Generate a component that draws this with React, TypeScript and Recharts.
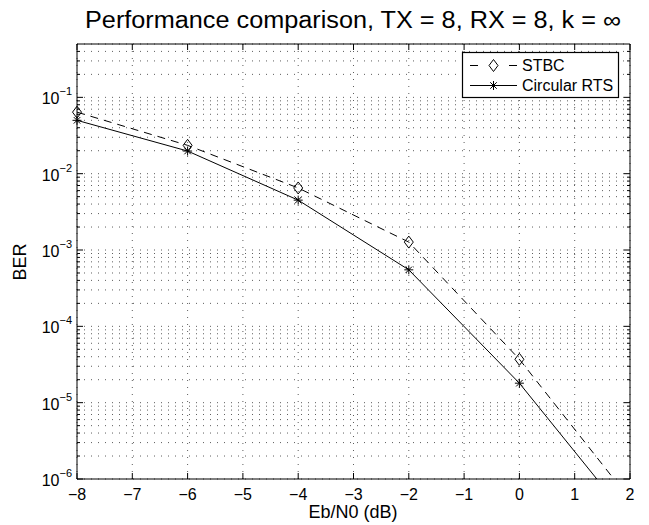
import React from "react";
import {
  LineChart,
  Line,
  XAxis,
  YAxis,
  CartesianGrid,
} from "recharts";

// Eb/N0 (dB) and BER
const snr = [-8, -6, -4, -2, 0, 2];
const stbc = [0.064, 0.0235, 0.0065, 0.00127, 3.7e-5, 5.4e-7];
const circularRts = [0.05, 0.0198, 0.0045, 0.00055, 1.8e-5, 2.9e-7];

const xTicks = [-8, -7, -6, -5, -4, -3, -2, -1, 0, 1, 2];
const yMajor = [1e-6, 1e-5, 1e-4, 1e-3, 1e-2, 1e-1];
const yExp = [-6, -5, -4, -3, -2, -1];
const minorMult = [2, 3, 4, 5, 6, 7, 8, 9];
const Y_MIN = 1e-6;
const Y_MAX = 0.5;

const data = snr.map((x, i) => ({ x, stbc: stbc[i], rts: circularRts[i] }));

const yTicks: number[] = [];
yMajor.forEach((m) => {
  yTicks.push(m);
  minorMult.forEach((k) => {
    const v = m * k;
    if (v < Y_MAX * 0.99) yTicks.push(v);
  });
});

const FONT = "'Liberation Sans', Arial, Helvetica, sans-serif";
const isMajor = (v: number) => yMajor.some((m) => Math.abs(v / m - 1) < 1e-6);

const fmtX = (v: number) => (v < 0 ? `\u2212${Math.abs(v)}` : `${v}`);

function LeftTick(props: any) {
  const { x, y, payload } = props;
  const major = isMajor(payload.value);
  const idx = yMajor.findIndex((m) => Math.abs(payload.value / m - 1) < 1e-6);
  return (
    <g>
      <line x1={x} y1={y} x2={x + (major ? 6 : 3)} y2={y} stroke="#000" />
      {major && (
        <text x={x - 5} y={y + 7} textAnchor="end" fontFamily={FONT} fontSize={16} fill="#000">
          10
          <tspan fontSize={11} dy={-9}>{`\u2212${Math.abs(yExp[idx])}`}</tspan>
        </text>
      )}
    </g>
  );
}

function RightTick(props: any) {
  const { x, y, payload } = props;
  const major = isMajor(payload.value);
  return <line x1={x} y1={y} x2={x - (major ? 6 : 3)} y2={y} stroke="#000" />;
}

function BottomTick(props: any) {
  const { x, y, payload } = props;
  return (
    <g>
      <line x1={x} y1={y} x2={x} y2={y - 6} stroke="#000" />
      <text x={x} y={y + 21} textAnchor="middle" fontFamily={FONT} fontSize={16} fill="#000">
        {fmtX(payload.value)}
      </text>
    </g>
  );
}

function TopTick(props: any) {
  const { x, y } = props;
  return <line x1={x} y1={y} x2={x} y2={y + 6} stroke="#000" />;
}

function diamondPath(cx: number, cy: number) {
  return `M${cx},${cy - 6} L${cx + 4.5},${cy} L${cx},${cy + 6} L${cx - 4.5},${cy} Z`;
}

function Diamond(props: any) {
  const { cx, cy, value } = props;
  if (cx == null || cy == null || value < Y_MIN) return null;
  return <path key={`d-${cx}`} d={diamondPath(cx, cy)} fill="none" stroke="#000" strokeWidth={1} />;
}

function starPath(cx: number, cy: number, r: number) {
  const d = r * 0.72;
  return `M${cx - r},${cy} L${cx + r},${cy} M${cx},${cy - r} L${cx},${cy + r} M${cx - d},${cy - d} L${cx + d},${cy + d} M${cx - d},${cy + d} L${cx + d},${cy - d}`;
}

function Star(props: any) {
  const { cx, cy, value } = props;
  if (cx == null || cy == null || value < Y_MIN) return null;
  return <path key={`s-${cx}`} d={starPath(cx, cy, 4.5)} stroke="#000" strokeWidth={1} fill="none" />;
}

// legend box drawn inside the plot, top right
function LegendBox({ x, y }: { x: number; y: number }) {
  return (
    <g transform={`translate(${x},${y})`}>
      <rect x={0.5} y={0.5} width={156} height={45} fill="#fff" stroke="#000" strokeWidth={1.2} />
      <line x1={8} y1={13.5} x2={16} y2={13.5} stroke="#000" />
      <line x1={47} y1={13.5} x2={55} y2={13.5} stroke="#000" />
      <path d={diamondPath(31.5, 13.5)} fill="#fff" stroke="#000" />
      <text x={60} y={19} fontFamily={FONT} fontSize={16} fill="#000">STBC</text>
      <line x1={8} y1={33.5} x2={55} y2={33.5} stroke="#000" />
      <path d={starPath(31.5, 33.5, 4.5)} stroke="#000" fill="none" />
      <text x={60} y={39} fontFamily={FONT} fontSize={16} fill="#000">Circular RTS</text>
    </g>
  );
}

export default function App() {
  return (
    <div style={{ position: "absolute", left: 0, top: 0, width: 649, height: 525, background: "#fff" }}>
      <LineChart width={649} height={525} data={data} margin={{ top: 0, right: 0, left: 0, bottom: 0 }}>
        <CartesianGrid
          stroke="#333"
          strokeDasharray="1 6"
          strokeWidth={0.8}
          horizontal
          vertical
        />
        <XAxis
          dataKey="x"
          type="number"
          domain={[-8, 2]}
          ticks={xTicks}
          height={46}
          tickSize={0}
          tickMargin={0}
          axisLine={{ stroke: "#000" }}
          tickLine={false}
          tick={<BottomTick />}
          interval={0}
        />
        <XAxis
          xAxisId="top"
          orientation="top"
          dataKey="x"
          type="number"
          domain={[-8, 2]}
          ticks={xTicks}
          height={44}
          tickSize={0}
          tickMargin={0}
          axisLine={{ stroke: "#000" }}
          tickLine={false}
          tick={<TopTick />}
          interval={0}
        />
        <YAxis
          type="number"
          scale="log"
          domain={[Y_MIN, Y_MAX]}
          allowDataOverflow
          ticks={yTicks}
          width={77}
          tickSize={0}
          tickMargin={0}
          axisLine={{ stroke: "#000" }}
          tickLine={false}
          tick={<LeftTick />}
          interval={0}
        />
        <YAxis
          yAxisId="right"
          orientation="right"
          type="number"
          scale="log"
          domain={[Y_MIN, Y_MAX]}
          allowDataOverflow
          ticks={yTicks}
          width={19}
          tickSize={0}
          tickMargin={0}
          axisLine={{ stroke: "#000" }}
          tickLine={false}
          tick={<RightTick />}
          interval={0}
        />
        <Line
          dataKey="stbc"
          stroke="#000"
          strokeWidth={1}
          strokeDasharray="8 6"
          dot={(p: any) => <Diamond {...p} />}
          isAnimationActive={false}
        />
        <Line
          dataKey="rts"
          stroke="#000"
          strokeWidth={1}
          dot={(p: any) => <Star {...p} />}
          isAnimationActive={false}
        />
        <LegendBox x={462} y={52} />
        <text
          x={85}
          y={28}
          textLength={536}
          lengthAdjust="spacingAndGlyphs"
          fontFamily={FONT}
          fontSize={23}
          fill="#000"
        >
          Performance comparison, TX = 8, RX = 8, k = {"\u221e"}
        </text>
        <text x={353} y={518} textAnchor="middle" fontFamily={FONT} fontSize={18} fill="#000">
          Eb/N0 (dB)
        </text>
        <text
          x={26}
          y={262}
          textAnchor="middle"
          fontFamily={FONT}
          fontSize={18}
          fill="#000"
          transform="rotate(-90 26 262)"
        >
          BER
        </text>
      </LineChart>
    </div>
  );
}
